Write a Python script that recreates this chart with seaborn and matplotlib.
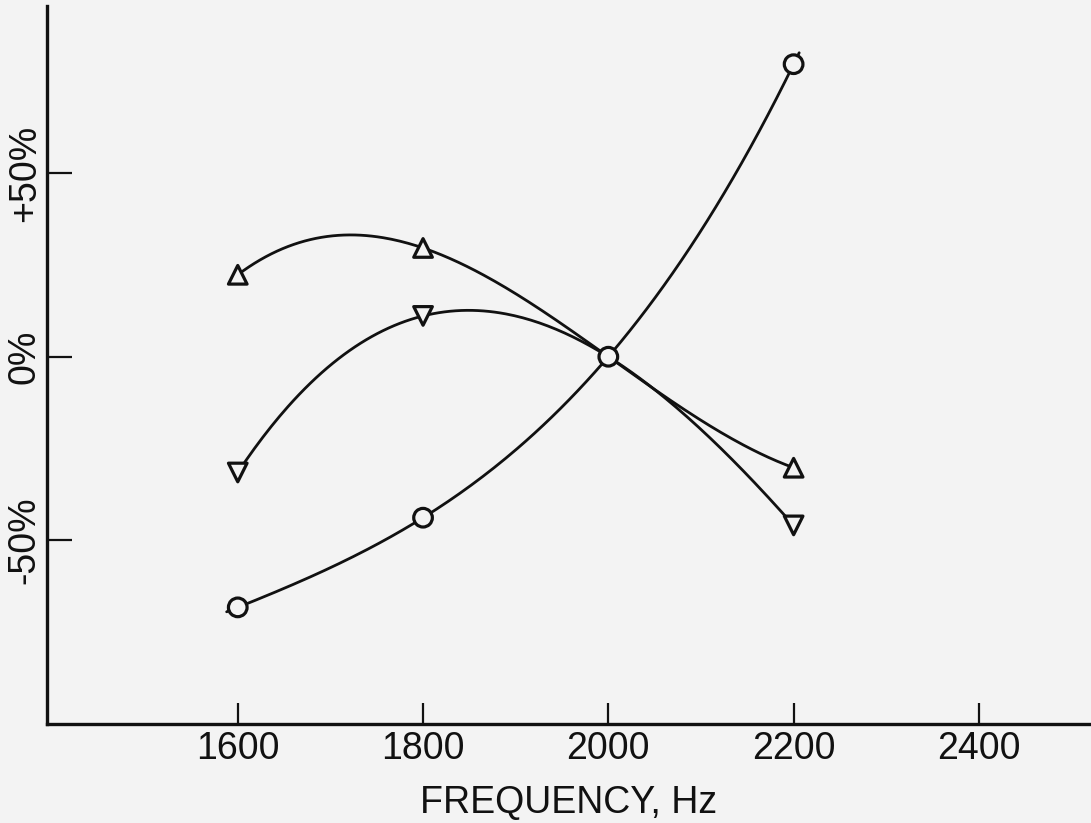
import numpy as np
import pandas as pd
import matplotlib
matplotlib.use("Agg")
import matplotlib.pyplot as plt
import seaborn as sns

# values
freq_hz = [1600, 1800, 2000, 2200]
circle_pct = [-68.2, -43.8, 0.0, 79.6]
up_tri_pct = [22.3, 29.6, 0.0, -30.2]
down_tri_pct = [-31.5, 11.1, 0.0, -45.9]
x_ticks = [1600, 1800, 2000, 2200, 2400]
y_ticks = [-50, 0, 50]
y_tick_labels = ["-50%", "0%", "+50%"]

paper = "#f3f3f3"
ink = "#111111"

sns.set_theme(style="ticks")
plt.rcParams["font.family"] = ["Liberation Sans", "DejaVu Sans"]

series = {"circle": circle_pct, "up": up_tri_pct, "down": down_tri_pct}
markers = {"circle": "o", "up": "^", "down": "v"}

rows = []
for name, vals in series.items():
    for f, v in zip(freq_hz, vals):
        # the shared 2000 Hz point is drawn once, as a circle
        if name != "circle" and f == 2000:
            continue
        rows.append({"freq": f, "pct": v, "series": name})
df = pd.DataFrame(rows)

fig = plt.figure(figsize=(10.91, 8.23), dpi=100, facecolor=paper)
ax = fig.add_axes([0.043, 0.12, 0.957, 0.873])
ax.set_facecolor(paper)

# hand-drawn style smooth curves through the points
for name, vals in series.items():
    t = (np.array(freq_hz) - 2000) / 200.0
    coef = np.polyfit(t, vals, 3)
    if name == "circle":
        tt = np.linspace(-2.06, 1.03, 200)
    else:
        tt = np.linspace(-2, 1, 200)
    ax.plot(2000 + 200 * tt, np.polyval(coef, tt), color=ink, lw=2.0, zorder=2)

sns.scatterplot(data=df, x="freq", y="pct", style="series", markers=markers,
                s=180, facecolor=paper, edgecolor=ink, linewidth=2.3,
                legend=False, zorder=3, ax=ax)

ax.set_xlim(1394, 2521)
ax.set_ylim(-100, 95.5)
ax.set_xticks(x_ticks)
ax.set_yticks(y_ticks)
ax.set_yticklabels(y_tick_labels, rotation=90, va="center")

for lab in ax.get_xticklabels() + ax.get_yticklabels():
    lab.set_fontsize(27)
    lab.set_color(ink)

ax.tick_params(axis="x", direction="in", length=15, width=1.6, pad=5, colors=ink)
ax.tick_params(axis="y", direction="in", length=18, width=1.6, pad=3, colors=ink)

ax.set_xlabel("FREQUENCY, Hz", fontsize=27, color=ink, labelpad=13)
ax.set_ylabel("")

sns.despine(ax=ax)
for side in ["left", "bottom"]:
    ax.spines[side].set_linewidth(2.4)
    ax.spines[side].set_color(ink)

fig.savefig("out.png", dpi=100, facecolor=paper)
